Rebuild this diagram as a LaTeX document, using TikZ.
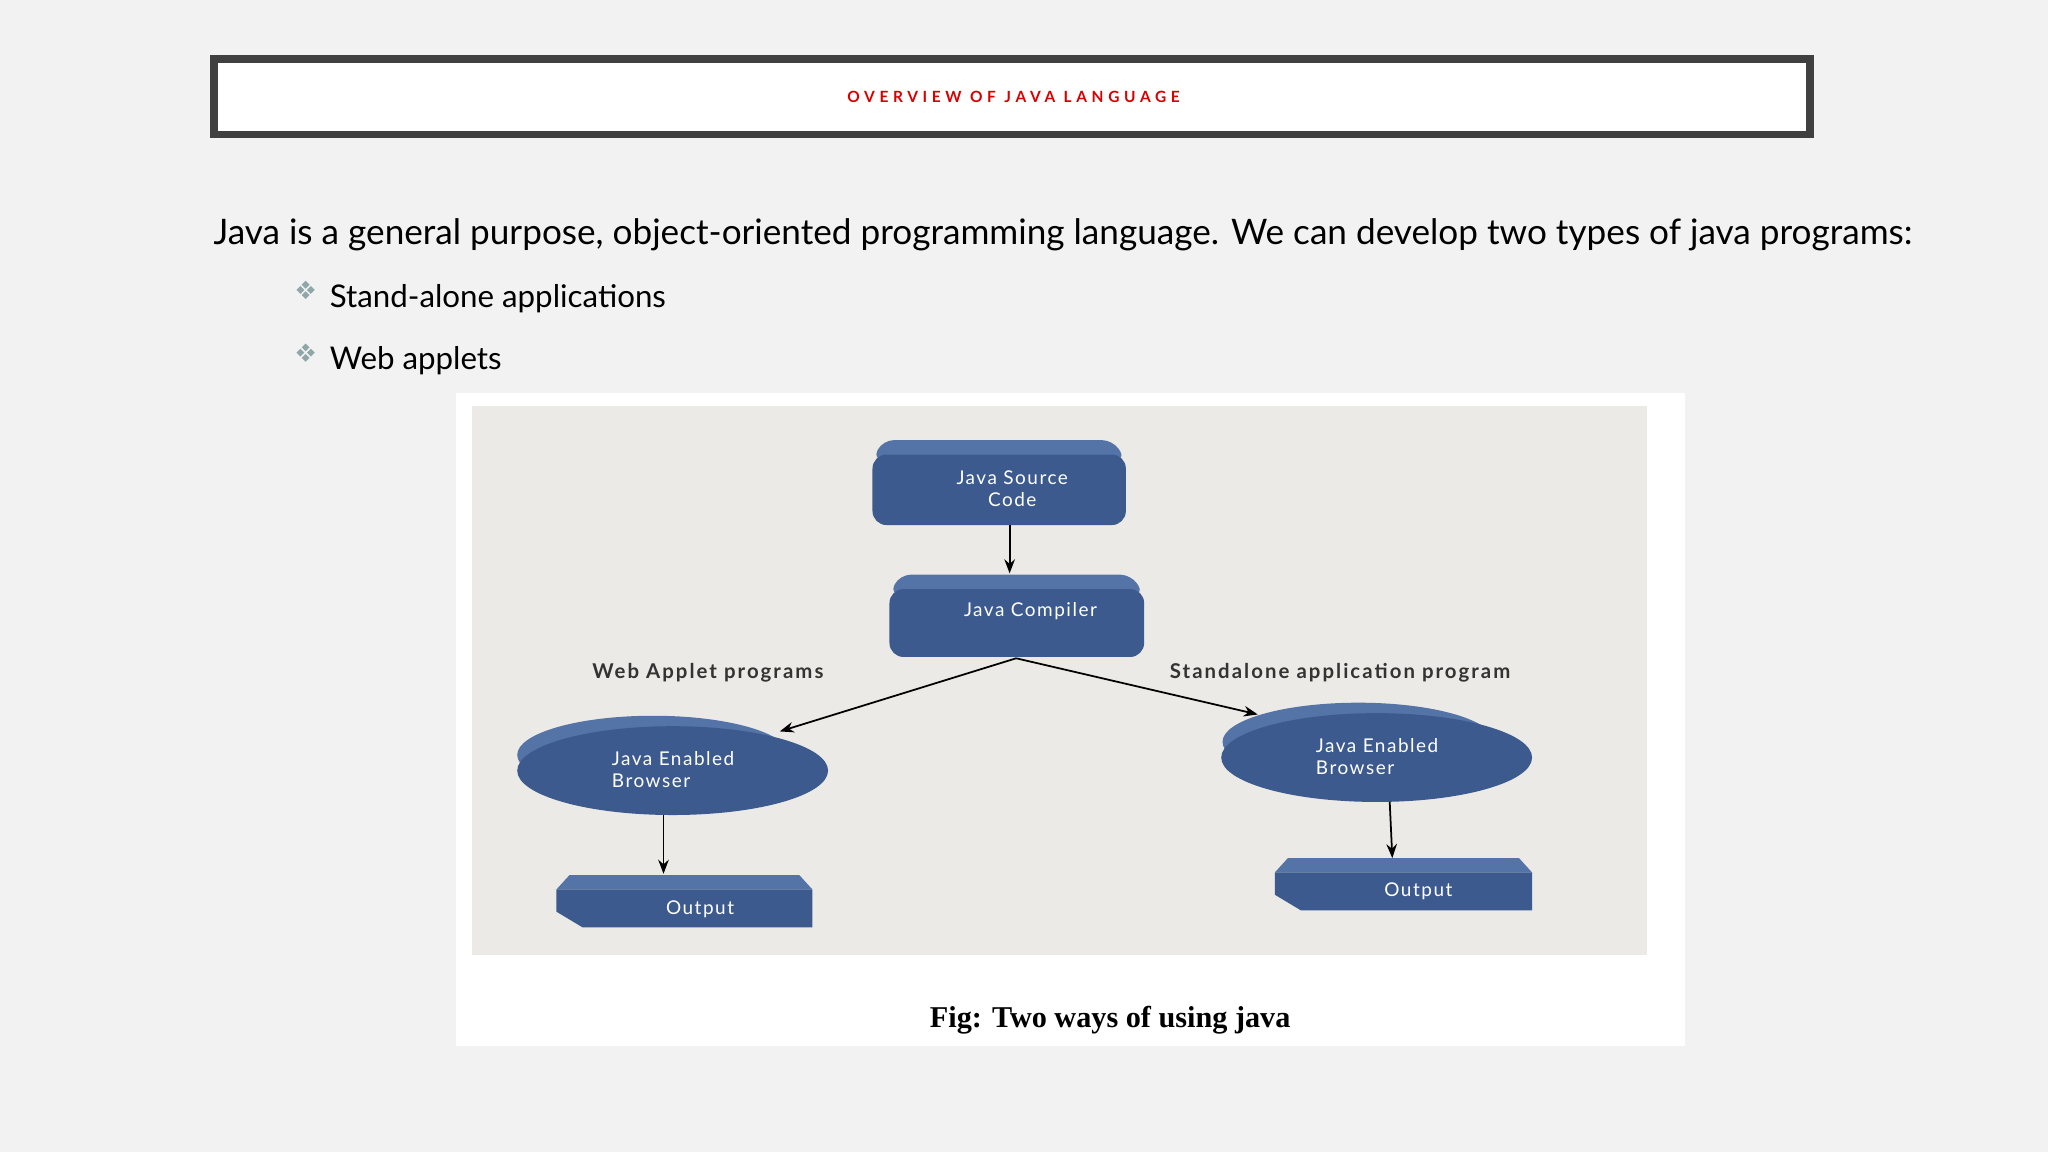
\documentclass[tikz,border=0pt]{standalone}
\usepackage{fontspec}
\setmainfont{Lato}
\newfontfamily\capfont{Liberation Serif}
\usetikzlibrary{shapes.geometric,arrows.meta}
\definecolor{bg}{HTML}{F2F2F2}
\definecolor{boxblue}{HTML}{3C5A8E}
\definecolor{topblue}{HTML}{5473A6}
\definecolor{panel}{HTML}{ECEAE6}
\definecolor{bul}{HTML}{8FA7A9}
\tikzset{
 wt/.style={text=white,font=\fontsize{5.4}{6.2}\selectfont\addfontfeature{LetterSpace=8}},
 arr/.style={-{Stealth[length=4pt,width=3pt]},black,line width=0.5pt},
 lbl/.style={font=\fontsize{5.8}{6}\selectfont\bfseries\addfontfeature{LetterSpace=10},text=black!80},
 bulletg/.style={fill=bul,draw=none},
}
\newcommand{\dia}[2]{\foreach \dx/\dy in {0/-4,4/0,0/4,-4/0}{\fill[bulletg] (#1+\dx,#2+\dy) +(0,-3) -- +(3,0) -- +(0,3) -- +(-3,0) -- cycle;}}
\begin{document}
\begin{tikzpicture}[x=0.013061cm,y=-0.013061cm]
\useasboundingbox[fill=bg] (0,0) rectangle (1568,882);
\path[draw=black!75,line width=2.2pt,fill=white] (164,45) rectangle (1386,103);
\node[text=red!85!black,font=\fontsize{4.4}{5}\selectfont\bfseries\addfontfeature{LetterSpace=30}] (title) at (776,74) {OVERVIEW OF JAVA LANGUAGE};
\node[anchor=west,font=\fontsize{10}{12}\selectfont,inner sep=0pt] (intro) at (163,180) {Java is a general purpose, object-oriented programming language. We can develop two types of java programs:};
\dia{234}{222}\dia{234}{270}
\node[anchor=west,font=\fontsize{8.9}{11}\selectfont,inner sep=0pt] (b1) at (252,229) {Stand-alone applications};
\node[anchor=west,font=\fontsize{8.9}{11}\selectfont,inner sep=0pt] (b2) at (252,276) {Web applets};
\fill[white] (349,301) rectangle (1290,801);
\fill[panel] (361,311) rectangle (1261,731);
% boxes
\fill[topblue,rounded corners=3pt] (668,352) -- (676,337) -- (852,337) -- (862,352) -- cycle;
\path[fill=boxblue,rounded corners=4pt] (668,348) rectangle (862,402);
\node[wt,align=center] (src) at (775,374) {Java Source\\Code};
\fill[topblue,rounded corners=3pt] (681,455) -- (689,440) -- (866,440) -- (876,455) -- cycle;
\path[fill=boxblue,rounded corners=4pt] (681,451) rectangle (876,503);
\node[wt] (comp) at (789,468) {Java Compiler};
\coordinate (compb) at (778,504);
\coordinate (srcb) at (773,402);
\coordinate (compt) at (773,439);
% ellipses
\fill[topblue] (500,578) ellipse [x radius=104, y radius=30];
\fill[boxblue] (515,590) ellipse [x radius=119, y radius=34];
\node[wt,align=left,anchor=west] (eL) at (459,589) {Java Enabled\\Browser};
\fill[topblue] (1040,568) ellipse [x radius=104, y radius=30];
\fill[boxblue] (1054,580) ellipse [x radius=119, y radius=34];
\node[wt,align=left,anchor=west] (eR) at (998,579) {Java Enabled\\Browser};
\coordinate (eLt) at (597,560); \coordinate (eRt) at (963,547);
\coordinate (eLb) at (508,624); \coordinate (eRb) at (1064,614);
% outputs
\fill[topblue] (426,681) -- (436,670) -- (612,670) -- (622,681) -- cycle;
\fill[boxblue] (426,681) -- (622,681) -- (622,710) -- (446,710) -- (426,698) -- cycle;
\node[wt] (oL) at (536,696) {Output};
\fill[topblue] (976,668) -- (986,657) -- (1163,657) -- (1173,668) -- cycle;
\fill[boxblue] (976,668) -- (1173,668) -- (1173,697) -- (996,697) -- (976,685) -- cycle;
\node[wt] (oR) at (1086,682) {Output};
\coordinate (oLt) at (508,669); \coordinate (oRt) at (1066,657);
\draw[arr] (srcb) -- (compt);
\draw[arr] (compb) -- (eLt);
\draw[arr] (compb) -- (eRt);
\draw[arr] (eLb) -- (oLt);
\draw[arr] (eRb) -- (oRt);
\node[lbl] (wl) at (542,515) {Web Applet programs};
\node[lbl] (sl) at (1026,515) {Standalone application program};
\node[font=\capfont\fontsize{8.6}{10}\selectfont\bfseries] (cap) at (850,781) {Fig: Two ways of using java};
\end{tikzpicture}
\end{document}
